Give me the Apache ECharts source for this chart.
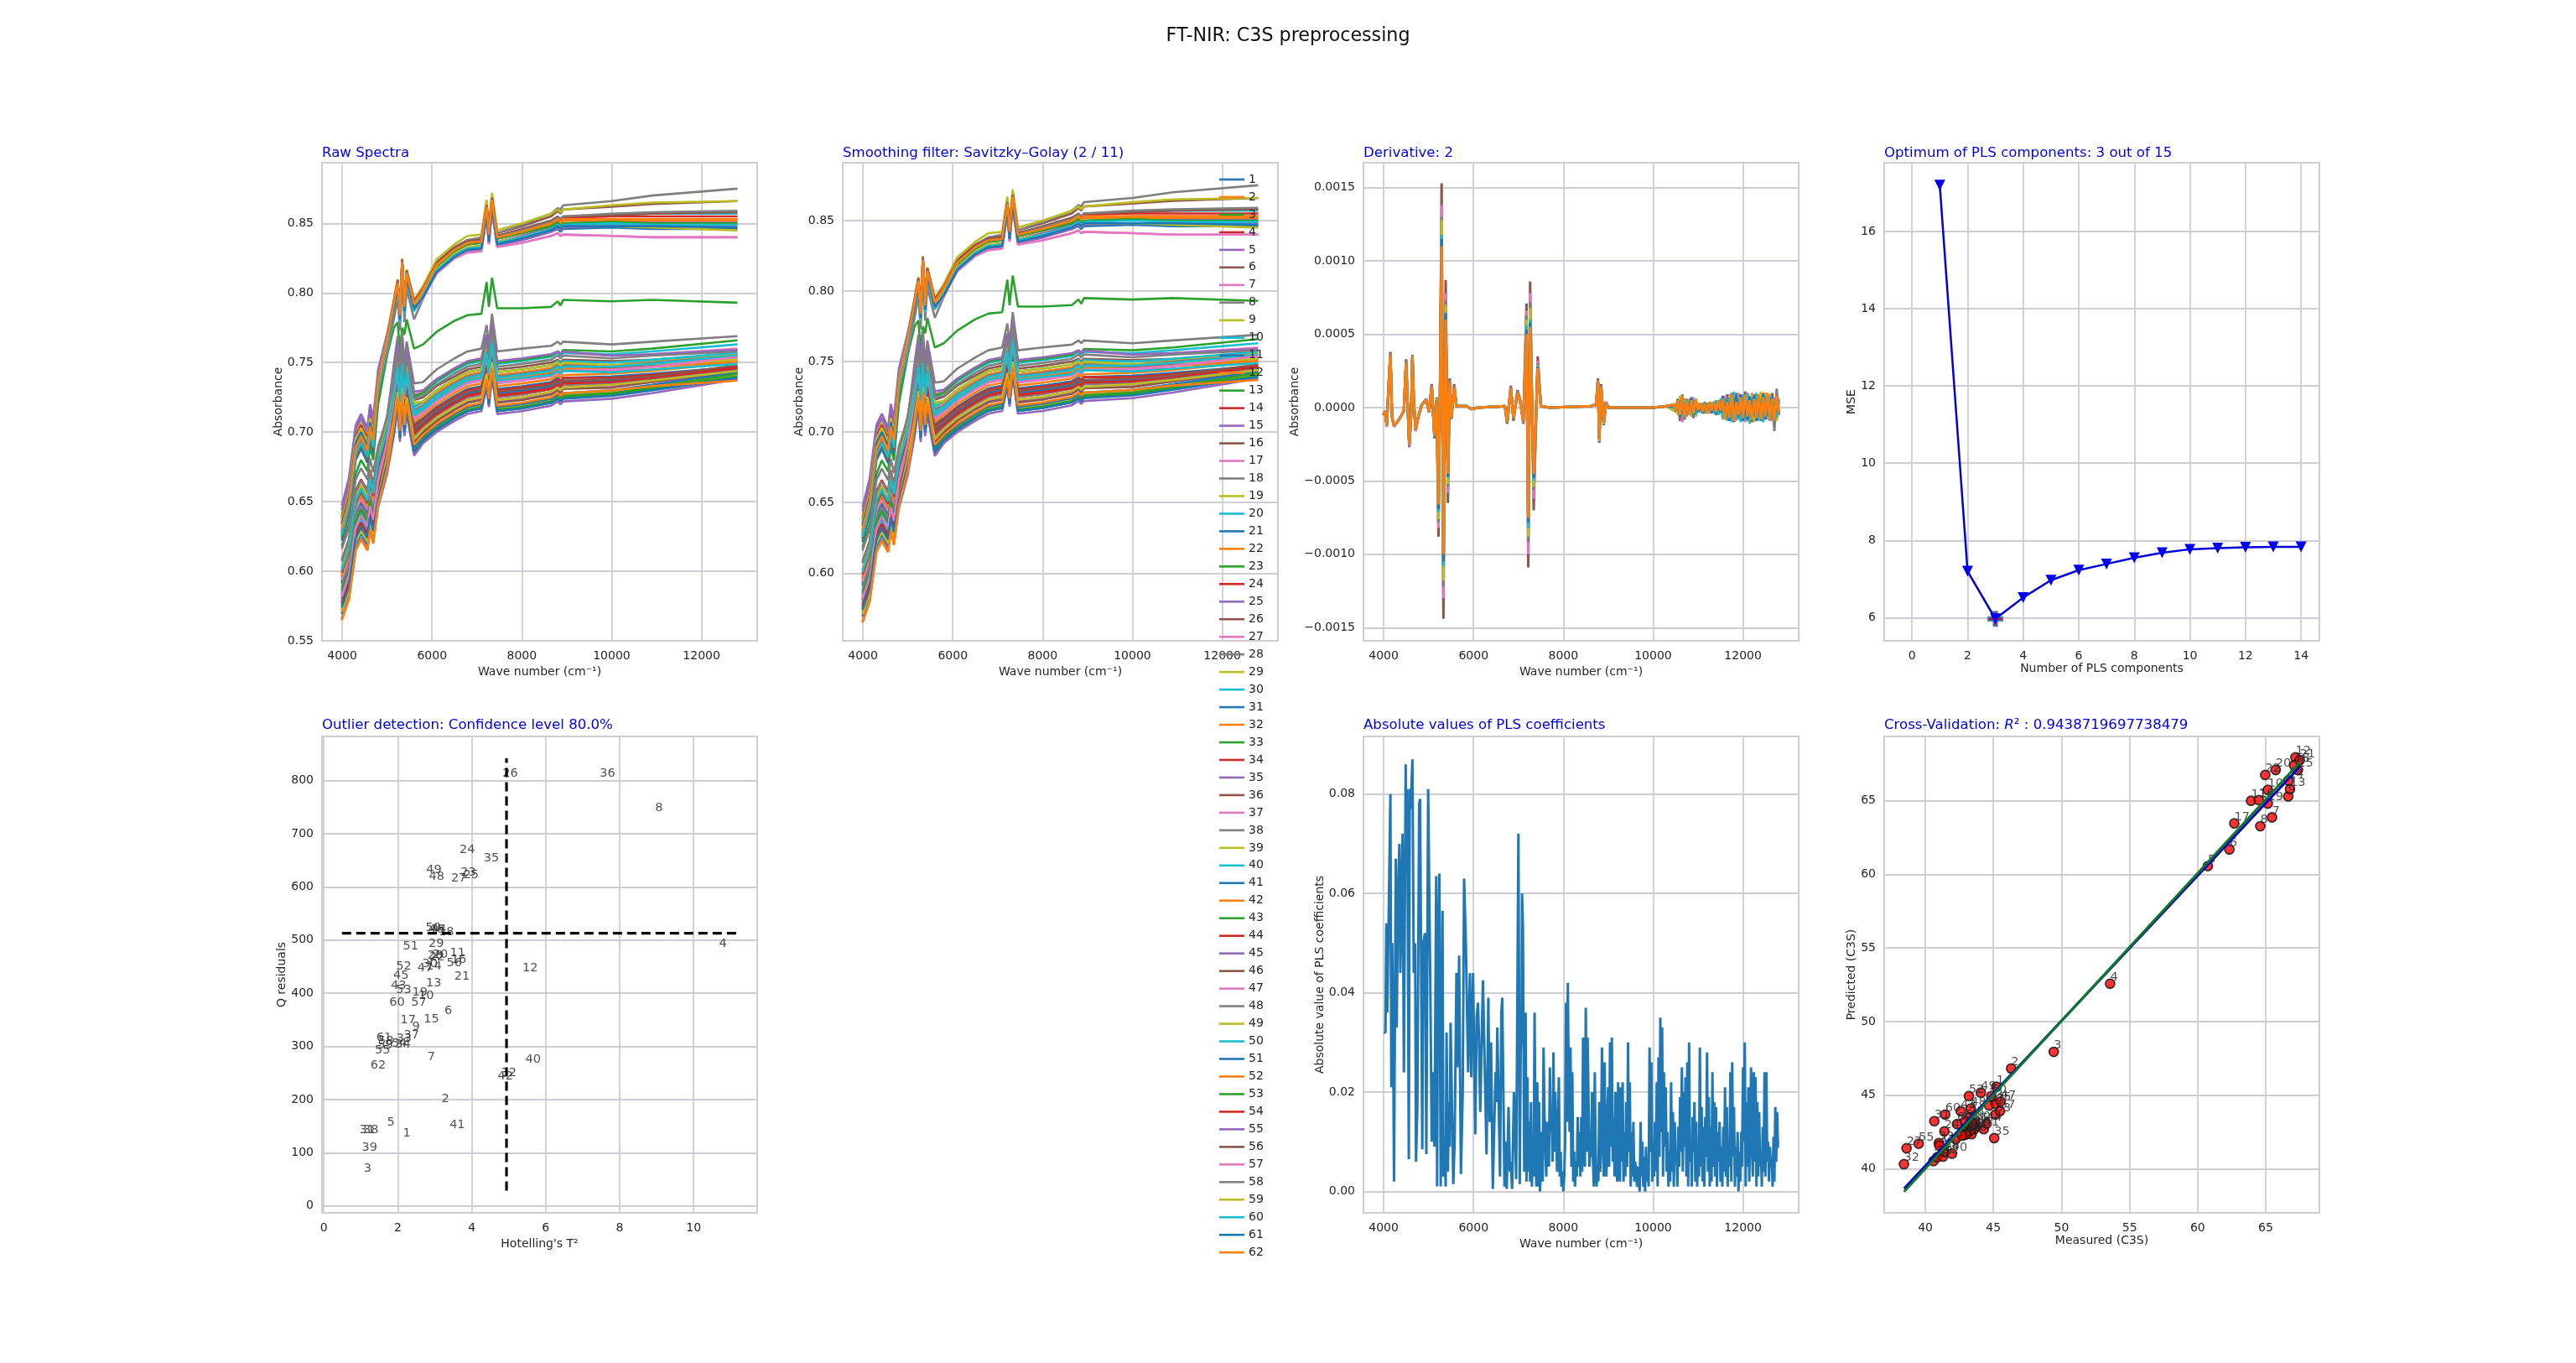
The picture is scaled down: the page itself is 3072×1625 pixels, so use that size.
<!DOCTYPE html>
<html><head><meta charset="utf-8"><style>html,body{margin:0;padding:0;background:#fff}#c{width:3072px;height:1625px}</style>
<script src="https://cdn.jsdelivr.net/npm/echarts@6/dist/echarts.min.js"></script></head><body><div id="c"></div>
<script>
const tab10=['#1f77b4','#ff7f0e','#2ca02c','#d62728','#9467bd','#8c564b','#e377c2','#7f7f7f','#bcbd22','#17becf'];
// Absorbance x 1000 for samples 1..62
const spectraWave=[3990,4150,4300,4420,4560,4620,4690,4800,5000,5150,5235,5285,5335,5385,5435,5600,5800,6100,6500,6790,7100,7215,7265,7335,7450,8000,8650,8800,8860,8920,10000,10900,12800];
const rawSpectra=[
[595,610,645,653,645,660,650,672,694,719,739,715,742,719,735,705,709,717,724,729,731,748,734,756,729,731,734,737,734,736,736,737,742],
[582,597,632,640,632,647,637,667,696,732,752,728,755,732,748,718,721,729,736,741,743,760,746,768,741,743,746,749,747,749,746,747,751],
[618,635,670,680,672,690,680,720,755,775,779,758,775,770,781,760,763,772,780,784,785,808,790,811,789,789,790,794,791,795,794,795,793],
[628,648,686,694,684,701,691,733,764,791,806,783,821,789,813,791,801,819,830,835,836,861,841,866,839,843,849,852,850,852,853,853,853],
[647,667,705,713,703,720,710,745,771,793,808,785,823,791,815,793,802,820,830,835,836,861,841,866,837,841,847,850,848,850,851,851,851],
[638,658,696,704,694,711,701,738,767,794,809,786,824,792,816,794,804,822,833,838,839,864,845,870,843,848,855,859,857,860,862,864,866],
[630,650,688,696,686,703,693,734,763,788,803,780,818,786,810,788,797,814,825,829,830,855,835,860,833,836,841,843,841,842,841,840,840],
[625,645,683,691,681,698,688,730,756,781,796,773,811,779,803,781,796,818,832,838,840,865,845,870,843,849,857,861,860,863,866,870,875],
[641,661,699,707,697,714,704,741,770,795,810,787,825,793,817,795,805,824,835,841,842,867,847,872,845,850,857,860,858,860,863,865,866],
[635,655,693,701,691,708,698,737,766,792,807,784,822,790,814,792,802,820,831,836,837,862,842,867,840,844,851,854,852,854,856,857,857],
[622,642,680,688,678,695,685,728,760,790,805,782,820,788,812,790,799,816,827,831,832,857,837,862,835,838,844,846,844,846,847,846,846],
[633,653,691,699,689,706,696,736,766,793,808,785,823,791,815,793,802,820,830,835,836,861,841,866,839,843,849,852,850,852,852,852,852],
[627,647,685,693,683,700,690,731,762,789,804,781,819,787,811,789,800,818,830,835,836,861,841,866,839,843,848,851,848,850,851,850,850],
[639,659,697,705,695,712,702,739,768,794,809,786,824,792,816,794,803,821,832,837,838,863,843,868,841,845,851,854,852,854,855,855,855],
[644,664,702,710,700,717,707,742,769,792,807,784,822,790,814,792,799,815,826,830,831,856,836,861,834,838,844,847,845,847,848,848,848],
[624,644,682,690,680,697,687,730,762,791,806,783,821,789,813,791,802,821,832,837,838,863,843,868,841,846,852,855,853,855,856,857,858],
[636,656,694,702,692,709,699,737,765,787,802,779,817,785,809,787,796,814,825,829,830,855,835,860,833,836,841,843,841,842,841,840,840],
[629,649,687,695,685,702,692,733,764,793,808,785,823,791,815,793,802,820,831,836,837,862,842,867,840,845,851,854,853,855,857,858,859],
[637,657,695,703,693,710,700,737,766,790,805,782,820,788,812,790,799,817,828,833,834,859,839,864,837,840,846,848,846,848,848,847,845],
[626,646,684,692,682,699,689,730,760,787,802,779,817,785,809,787,798,816,827,832,833,858,838,863,836,840,846,849,847,849,850,849,849],
[634,654,692,700,690,707,697,735,764,789,804,781,819,787,811,789,797,815,826,831,832,857,837,862,835,839,845,848,846,848,848,848,847],
[631,651,689,697,687,704,694,734,765,792,807,784,822,790,814,792,802,820,831,836,837,862,842,867,840,844,850,853,851,853,853,853,853],
[578,593,628,636,628,643,633,656,680,704,724,700,727,704,720,690,696,704,712,717,719,737,723,745,718,720,723,726,724,726,729,732,739],
[608,623,658,666,658,673,663,680,697,712,732,708,735,712,728,698,703,712,720,725,727,744,730,752,725,727,731,734,732,734,735,738,744],
[570,585,620,628,620,635,625,658,692,730,750,726,753,730,746,716,719,727,734,739,741,758,744,766,739,741,744,747,745,747,746,748,752],
[593,608,643,651,643,658,648,676,702,737,757,733,760,737,753,723,725,733,740,745,747,764,750,772,745,747,750,752,750,752,751,752,756],
[588,603,638,646,638,653,643,675,706,741,761,737,764,741,757,727,729,737,745,750,752,769,755,777,750,752,755,757,755,757,755,756,760],
[585,600,635,643,635,650,640,675,709,749,769,745,772,749,765,735,736,745,753,758,760,777,763,785,758,760,762,765,763,765,763,765,769],
[600,615,650,658,650,665,655,681,706,734,754,730,757,734,750,720,722,730,738,743,745,762,748,770,743,745,748,751,748,750,750,751,756],
[575,590,625,633,625,640,630,664,699,739,759,735,762,739,755,725,728,736,744,749,751,768,754,776,749,751,754,757,755,757,756,758,763],
[583,598,633,641,633,648,638,665,691,720,740,716,743,720,736,706,710,718,726,731,733,750,736,758,731,733,736,739,737,739,740,742,747],
[565,580,615,623,615,630,620,654,688,727,747,723,750,727,743,713,716,724,732,737,739,756,742,764,737,739,742,745,743,745,744,745,750],
[592,607,642,650,642,657,647,677,706,740,760,736,763,740,756,726,728,737,745,750,752,769,755,777,750,752,755,758,756,759,758,760,766],
[580,595,630,638,630,645,635,662,688,716,736,712,739,716,732,702,706,714,722,727,729,746,732,754,727,729,732,735,733,735,736,738,743],
[587,602,637,645,637,652,642,664,685,708,728,704,731,708,724,694,699,708,717,722,724,741,727,749,722,724,728,731,729,732,733,736,745],
[596,611,646,654,646,661,651,675,699,725,745,721,748,725,741,711,715,724,732,737,739,756,742,764,737,739,742,745,743,746,746,748,754],
[578,593,628,636,628,643,633,658,683,710,730,706,733,710,726,696,701,710,718,723,725,742,728,750,723,725,729,732,730,732,733,736,742],
[616,631,666,674,666,681,671,690,710,730,750,726,753,730,746,716,719,727,735,740,742,759,745,767,740,742,745,748,746,748,748,750,755],
[574,589,624,632,624,639,629,653,677,702,722,698,725,702,718,688,695,703,712,717,719,736,722,744,717,719,723,726,724,727,729,733,741],
[584,599,634,642,634,649,639,669,697,732,752,728,755,732,748,718,722,730,738,743,745,762,748,770,743,745,748,751,749,751,750,752,757],
[591,606,641,649,641,656,646,668,690,714,734,710,737,714,730,700,706,715,723,728,730,747,733,755,728,730,733,736,734,737,737,740,746],
[598,613,648,656,648,663,653,677,701,728,748,724,751,728,744,714,717,725,733,738,740,757,743,765,738,740,743,746,744,746,745,747,751],
[576,591,626,634,626,641,631,653,677,699,719,695,722,699,715,685,693,701,710,715,717,734,720,742,715,717,721,724,722,725,727,731,740],
[572,587,622,630,622,637,627,656,686,718,738,714,741,718,734,704,709,717,725,730,732,749,735,757,730,732,735,738,736,739,739,741,747],
[602,617,652,660,652,667,657,685,712,743,763,739,766,743,759,729,730,738,746,751,753,770,756,778,751,753,756,758,756,758,755,756,759],
[581,596,631,639,631,646,636,659,682,706,726,702,729,706,722,692,700,708,716,721,723,740,726,748,721,723,727,730,728,731,732,736,744],
[594,609,644,652,644,659,649,673,697,723,743,719,746,723,739,709,714,722,730,735,737,754,740,762,735,737,740,743,741,744,744,747,753],
[589,604,639,647,639,654,644,666,689,711,731,707,734,711,727,697,704,712,720,725,727,744,730,752,725,727,731,734,732,734,735,738,745],
[604,619,654,662,654,669,659,684,709,735,755,731,758,735,751,721,722,730,738,743,745,762,748,770,743,745,748,750,748,750,748,749,752],
[579,594,629,637,629,644,634,664,694,728,748,724,751,728,744,714,718,726,734,739,741,758,744,766,739,741,744,747,745,747,747,749,755],
[569,584,619,627,619,634,624,650,678,703,723,699,726,703,719,689,697,705,713,718,720,737,723,745,718,720,724,727,725,728,730,734,743],
[597,612,647,655,647,662,652,675,697,721,741,717,744,721,737,707,712,720,728,733,735,752,738,760,733,735,738,741,739,741,742,744,750],
[586,601,636,644,636,651,641,661,681,701,721,697,724,701,717,687,695,703,711,716,718,735,721,743,716,718,722,725,723,726,728,732,742],
[577,592,627,635,627,642,632,658,684,713,733,709,736,713,729,699,705,713,721,726,728,745,731,753,726,728,731,734,733,735,736,739,746],
[566,581,616,624,616,631,621,646,670,697,717,693,720,697,713,683,692,700,708,713,715,732,718,740,713,715,719,722,720,722,724,728,738],
[599,614,649,657,649,664,654,675,696,717,737,713,740,717,733,703,708,716,724,729,731,748,734,756,729,731,734,737,735,737,738,740,748],
[582,597,632,640,632,647,637,665,693,724,744,720,747,724,740,710,715,723,731,736,738,755,741,763,736,738,741,744,742,744,745,747,754],
[607,622,657,665,657,672,662,687,711,738,758,734,761,738,754,724,726,734,742,747,749,766,752,774,747,749,752,755,753,755,753,755,758],
[571,586,621,629,621,636,626,653,682,709,729,705,732,709,725,695,702,710,718,723,725,742,728,750,723,725,729,732,730,732,734,737,744],
[601,616,651,659,651,666,656,679,701,726,746,722,749,726,742,712,716,724,732,737,739,756,742,764,737,739,741,744,742,744,743,745,749],
[574,589,624,632,624,639,629,652,677,700,720,696,723,700,716,686,694,702,710,715,717,734,720,742,715,717,721,724,722,724,726,730,739],
[565,580,615,623,615,630,620,648,673,705,725,701,728,705,721,691,698,706,714,719,721,738,724,746,719,721,725,728,726,728,730,733,737]];
// Second derivative x 100000, the seven samples that stay visible on top (56..62)
const derivWave=[3990,4030,4070,4110,4150,4185,4230,4300,4400,4450,4500,4530,4570,4610,4640,4670,4710,4780,4850,4950,5010,5070,5130,5180,5220,5255,5290,5330,5380,5430,5470,5505,5570,5620,5700,5850,5950,6100,6700,6750,6830,6890,6980,7040,7110,7180,7220,7260,7340,7430,7500,7700,8600,8730,8770,8800,8840,8900,8950,9000,9500,10000,10300,
10450,10500,10550,10600,10650,10700,10750,10800,10850,10900,10950,11000,11050,11100,11150,11200,11250,11300,11350,11400,11450,11500,11550,11600,11650,11700,11750,11800,11850,11900,11950,12000,12050,12100,12150,12200,12250,12300,12350,12400,12450,12500,12550,12600,12650,12700,12750,12800];
const deriv56=[-5,-2,-13,16,38,-7,-13,-10,-5,-2,33,5,-27,-5,36,5,-16,-5,2,6,-3,16,-21,7,-88,12,153,-144,87,-65,20,-8,16,1,1,1,-1,0,1,-11,15,-9,12,5,-11,71,-109,86,-70,35,1,0,1,2,20,-24,16,-12,4,0,0,0,1,
2,-3,6,-9,8,-5,5,-4,6,-7,4,-2,3,-3,2,-4,3,-2,4,-5,4,-3,3,-8,9,-5,7,-10,10,-7,6,-9,11,-5,8,-10,9,-6,4,-9,10,-7,9,-8,10,-11,8,-5];
const deriv57=[-5,-2,-13,15,37,-6,-13,-10,-5,-2,32,5,-26,-5,35,5,-16,-5,2,6,-3,15,-20,6,-82,11,138,-130,78,-58,19,-8,15,1,1,1,-1,0,1,-10,14,-8,11,5,-10,66,-100,78,-62,32,1,0,1,2,19,-23,15,-11,4,0,0,0,1,
-1,2,-4,7,-10,6,-5,4,-6,7,-3,3,-3,3,-2,3,-4,3,-3,4,-4,4,-5,8,-6,9,-8,7,-9,10,-6,8,-10,9,-7,10,-8,7,-9,8,-7,10,-8,9,-9,7,-6,6];
const deriv58=[-5,-3,-12,15,37,-6,-12,-10,-5,-2,32,5,-25,-5,35,5,-15,-5,2,5,-3,15,-20,6,-78,11,130,-122,73,-54,19,-8,15,1,1,1,-1,0,1,-10,14,-8,11,4,-10,63,-92,72,-56,30,1,0,1,2,19,-22,15,-11,3,0,0,0,1,
1,-2,3,-7,9,-4,6,-5,4,-6,5,-2,3,-3,4,-3,2,-4,3,-3,3,-4,7,-6,6,-9,8,-5,7,-8,9,-6,7,-9,6,-7,8,-6,8,-7,6,-8,7,-9,6,-16,13,-4];
const deriv59=[-5,-3,-12,15,36,-6,-12,-10,-5,-2,31,5,-25,-5,35,5,-15,-5,2,5,-3,14,-19,6,-76,11,128,-118,70,-52,18,-7,14,1,1,1,-1,0,1,-10,13,-7,10,4,-9,60,-88,68,-54,29,1,0,1,2,18,-22,14,-11,3,0,0,0,1,
-2,3,-5,8,-6,5,-4,6,-5,4,-6,3,-2,3,-3,2,-3,4,-3,3,-4,3,-8,5,-7,8,-6,9,-5,7,-9,8,-6,10,-7,9,-10,8,-6,11,-8,10,-7,9,-8,5,-9,4];
const deriv60=[-5,-3,-12,14,36,-6,-12,-10,-5,-2,31,5,-25,-5,34,5,-15,-5,2,5,-3,14,-18,5,-71,10,118,-108,65,-48,18,-7,14,1,1,1,-1,0,1,-10,13,-7,10,4,-9,56,-82,60,-50,28,1,0,1,2,18,-21,14,-10,3,0,0,0,1,
0,1,-2,5,-6,4,-6,5,-3,5,-5,2,-3,3,-4,3,-2,3,-4,5,-5,6,-7,6,-9,7,-10,11,-8,6,-10,9,-8,10,-11,7,-6,10,-9,6,-10,8,-6,8,-8,4,-7,6];
const deriv61=[-5,-3,-12,14,36,-6,-12,-10,-5,-2,31,5,-25,-5,34,5,-15,-5,2,5,-3,14,-18,5,-69,10,115,-105,64,-47,18,-7,14,1,1,1,-1,0,1,-10,13,-7,10,4,-9,53,-78,58,-48,28,1,0,1,2,18,-21,14,-10,3,0,0,0,1,
1,-1,4,-6,7,-8,3,-4,7,-5,3,-3,2,-4,3,-2,3,-3,2,-4,3,-3,8,-7,5,-9,10,-6,8,-6,9,-9,5,-8,7,-5,8,-9,6,-7,9,-8,6,-7,7,-9,5,-3];
const deriv62=[-5,-3,-12,14,36,-6,-12,-10,-5,-2,31,5,-25,-5,34,5,-15,-5,2,5,-3,14,-18,5,-66,10,110,-100,60,-45,18,-7,14,1,1,1,-1,0,1,-10,13,-7,10,4,-9,50,-75,55,-45,27,1,0,1,2,18,-21,14,-10,3,0,0,0,1,
2,-2,5,-5,8,-7,4,-5,5,-4,6,-2,3,-3,3,-4,4,-2,3,-3,5,-2,6,-8,4,-7,9,-9,4,-5,7,-7,9,-6,5,-8,6,-7,9,-8,7,-6,10,-8,6,-9,8,-3];
const derivSeries=[deriv56,deriv57,deriv58,deriv59,deriv60,deriv61,deriv62];
const derivColors=[tab10[5],tab10[6],tab10[7],tab10[8],tab10[9],tab10[0],tab10[1]];
// PLS component search
const plsComponents=[1,2,3,4,5,6,7,8,9,10,11,12,13,14];
const plsMse=[17.2,7.2,5.97,6.52,6.97,7.23,7.39,7.55,7.68,7.77,7.80,7.82,7.83,7.83];
const plsBest=[3,5.97];
// Outlier map: Hotelling T2 and Q residuals for samples 1..62
const hotellingT2=[2.14,3.18,1.08,10.69,1.71,3.26,2.80,8.96,2.39,2.56,3.41,5.37,2.76,2.77,2.70,3.44,2.07,3.10,2.39,2.94,3.53,2.85,3.70,3.67,3.77,4.83,3.44,2.80,2.83,2.66,0.96,4.79,1.96,1.93,4.32,7.46,2.16,1.06,1.03,5.45,3.40,4.70,1.81,2.90,1.88,2.83,2.53,2.84,2.77,2.75,2.14,1.95,1.95,1.83,1.38,3.32,2.36,1.47,1.45,1.77,1.42,1.26];
const qResiduals=[131,195,64,488,152,361,275,743,332,390,470,442,414,445,345,457,344,510,396,467,426,462,621,664,617,807,611,465,487,450,138,245,309,298,648,807,316,138,104,270,146,238,408,514,428,515,441,614,627,517,483,445,400,299,287,451,377,305,296,377,311,259];
const t2Limit=4.94;
const qLimit=513;
const limitQRange=[29,842];
const limitT2Range=[0.49,11.18];
// PLS coefficients: abs value x 1000
const coefHeadWave=[4000,4040,4060,4080,4100,4150,4170,4190,4210,4230,4270,4290,4320,4350,4370,4420,4450,4490,4510,4520,4530,4560,4580,4600,4640,4670,4700,4720,4750,4790,4810,4860,4880,4920,4950,4990,5040,5070,5100,5130,5170,5190,5210,5240,5270,5310,5330,5360,5380,5400,5430,5450,5470,5490,5510,5550,5580,5620,5640,5680,5700,5720,5760,5790,5830,5880,5920,5950,5990,6040,6070,6100,6120,6150,6210,6260,6290,6330,6360,6390,6430,6490,6510,6530,6590,6620,6640,6690,6710,6740,6780,6810,6830,6860,6900,6950,6980,7000,7030,7050,7070,7080,7100,7130,7160,7180];
const coefHeadValue=[32,32,54,36,36,80,21,50,34,2,67,33,60,70,44,72,24,86,67,81,70,6.5,81,77,87,44,50,6,17,78,79,8.5,50,52,7.5,81,40,10,24,9,63.5,1,47,64,1,56.5,3,11,1,32,4,18,9,34,34,1.5,10,44,25,47.5,24,3.5,20,63,50,24,44,23,44,11.5,35,38,31.5,16,42.5,21,7.5,39,14,30,0.5,24,18,33,3,36,39,1,10,0.5,17,4,6,0.5,20,2.5,44,72,1.5,28,33,60,53.5,4,36,2];
const coefTailStart=7200, coefTailStep=20;
const coefTailValue=[23,4,14,2,18,1,10,3,36,8,1,22,1,18,0,5,12,2,29,16,
8,3,14,9,5,25,12,16,6,28,8,20,14,4,11,23,3,8,1,4,
0,3,10,38,14,42,22,12,29,5,24,2,8,1,6,3,15,5,12,3,
15,4,31,12,5,37,8,31,19,5,9,7,20,6,1,24,8,1,5,2,
18,4,9,29,12,3,26,7,3,15,21,5,30,9,31,6,15,3,20,7,
2,22,10,2,21,6,22,2,12,3,18,5,30,8,22,1,12,3,14,2,
6,4,1,5,2,0,14,3,10,1,7,0,9,2,6,1,29,8,26,2,
9,3,14,4,22,1,27,7,35,12,33,3,24,9,21,4,12,1,8,2,
22,4,16,1,14,6,8,1,13,5,19,8,25,4,20,9,23,3,26,1,
30,6,10,1,15,8,18,2,14,1,8,3,29,5,17,2,13,1,15,7,
28,4,19,1,13,2,24,5,18,3,17,1,12,6,14,2,9,1,13,4,
21,3,17,1,10,5,24,2,26,7,17,1,9,3,12,0,8,2,12,5,
25,10,30,1,18,5,21,2,12,25,9,3,24,6,23,1,18,3,16,5,
8,1,13,4,24,3,24,6,10,2,9,5,7,1,11,2,17,6,16,9,9];
// Cross-validation for samples 1..62
const measured=[45.22,46.30,49.43,53.57,60.75,62.33,65.46,64.60,66.65,65.15,63.92,67.18,66.78,66.67,67.36,64.49,62.69,67.09,65.15,65.73,67.49,64.96,43.0,41.40,43.1,43.4,38.62,43.2,42.9,43.67,40.66,38.43,40.99,41.03,45.06,42.23,44.68,40.60,40.87,41.96,44.29,41.30,42.60,44.50,45.17,43.6,45.53,43.34,44.08,44.85,43.3,43.20,45.15,42.99,39.51,43.5,45.48,41.38,42.7,41.46,42.89,42.33];
const predicted=[45.57,46.81,47.94,52.57,60.56,61.69,63.87,63.27,65.29,65.74,65.0,67.95,65.79,66.37,67.09,65.05,63.46,67.42,64.81,67.09,67.76,66.75,42.5,42.54,42.4,42.35,41.39,43.45,42.3,43.11,43.23,40.31,41.74,41.58,42.08,42.0,44.29,40.52,40.78,41.02,42.69,40.82,43.91,43.07,44.41,42.7,44.56,44.08,45.17,44.94,42.6,44.94,43.68,42.35,41.70,43.0,43.91,41.16,42.25,43.68,43.22,43.03];
const fitBlue=[[38.44,38.65],[67.5,67.3]];
const fitGreen=[[38.44,38.44],[67.5,67.6]];

const ids=rawSpectra.map((_,i)=>String(i+1));
const FONT='DejaVu Sans', INK='#262626', GRID='#cdcdd3';
const W=519,H1=570,H2=568,T1=194,T2=878,L=[384,1005,1626,2247];
const grids=[[L[0],T1,H1],[L[1],T1,H1],[L[2],T1,H1],[L[3],T1,H1],[L[0],T2,H2],[L[2],T2,H2],[L[3],T2,H2]]
 .map(g=>({left:g[0],top:g[1],width:W,height:g[2],show:true,borderColor:GRID,borderWidth:2,backgroundColor:'#fff'}));
function axis(gi,kind,min,max,ticks,fmt,name,gap){
 const a={type:'value',gridIndex:gi,min,max,name,nameLocation:'middle',nameGap:gap,
  nameTextStyle:{fontFamily:FONT,fontSize:14,color:INK},
  axisLine:{show:false},axisTick:{show:false,customValues:ticks},
  axisLabel:{customValues:ticks,formatter:fmt,fontFamily:FONT,fontSize:14,color:INK,margin:kind==='x'?11:10,showMinLabel:true,showMaxLabel:true},
  splitLine:{show:true,lineStyle:{color:GRID,width:1.8}}};
 if(kind==='y')a.nameRotate=90;
 return a;
}
const num=v=>String(v);
const signed=d=>v=>(v<0?'\u2212':'')+Math.abs(v).toFixed(d);
const waveTicks=[4000,6000,8000,10000,12000];
const XN='Wave number (cm\u207B\u00B9)';
const xAxes=[
 axis(0,'x',3550,13240,waveTicks,num,XN,30),
 axis(1,'x',3550,13240,waveTicks,num,XN,30),
 axis(2,'x',3550,13240,waveTicks,num,XN,30),
 axis(3,'x',-1,14.66,[0,2,4,6,8,10,12,14],num,'Number of PLS components',25),
 axis(4,'x',-0.05,11.72,[0,2,4,6,8,10],num,"Hotelling's T\u00B2",30),
 axis(5,'x',3550,13240,waveTicks,num,XN,30),
 axis(6,'x',36.98,68.94,[40,45,50,55,60,65],num,'Measured (C3S)',25)];
const yAxes=[
 axis(0,'y',0.55,0.8936,[0.55,0.6,0.65,0.7,0.75,0.8,0.85],signed(2),'Absorbance',39),
 axis(1,'y',0.552,0.891,[0.6,0.65,0.7,0.75,0.8,0.85],signed(2),'Absorbance',39),
 axis(2,'y',-0.00159,0.00167,[-0.0015,-0.001,-0.0005,0,0.0005,0.001,0.0015],signed(4),'Absorbance',67),
 axis(3,'y',5.40,17.78,[6,8,10,12,14,16],num,'MSE',23),
 axis(4,'y',-13,883,[0,100,200,300,400,500,600,700,800],num,'Q residuals',32),
 axis(5,'y',-0.0043,0.0916,[0,0.02,0.04,0.06,0.08],signed(2),'Absolute value of PLS coefficients',37),
 axis(6,'y',37,69.37,[40,45,50,55,60,65],num,'Predicted (C3S)',23)];
const series=[];
const line=(gi,name,data,color,width)=>({type:'line',name,xAxisIndex:gi,yAxisIndex:gi,data,symbol:'none',silent:true,
  lineStyle:{color,width},itemStyle:{color},animation:false,clip:true});
[0,1].forEach(gi=>rawSpectra.forEach((row,i)=>series.push(line(gi,ids[i],row.map((v,j)=>[spectraWave[j],v/1000]),tab10[i%10],2.6))));
derivSeries.forEach((row,i)=>series.push(line(2,'deriv'+(56+i),row.map((v,j)=>[derivWave[j],v/100000]),derivColors[i],3)));
series.push(Object.assign(line(3,'MSE',plsComponents.map((c,i)=>[c,plsMse[i]]),'#0000d8',2.5),
 {symbol:'triangle',symbolRotate:180,symbolSize:13,itemStyle:{color:'#0000ee'}}));
series.push({type:'scatter',name:'best',xAxisIndex:3,yAxisIndex:3,data:[plsBest],symbol:'path://M3 0h2v3h3v2H5v3H3V5H0V3h3z',symbolSize:17,
 itemStyle:{color:'#e00000',borderColor:'#4682b4',borderWidth:2,opacity:1},silent:true});
const labelBase={show:true,position:['50%','50%'],align:'left',verticalAlign:'bottom',fontFamily:FONT,fontSize:14.5,color:INK,
 formatter:p=>p.value[2],distance:0};
series.push({type:'scatter',name:'outliers',xAxisIndex:4,yAxisIndex:4,symbolSize:1,itemStyle:{color:'rgba(0,0,0,0)'},silent:true,
 data:hotellingT2.map((v,i)=>[v,qResiduals[i],ids[i]]),label:Object.assign({},labelBase,{offset:[0,4]})});
const dash=(d)=>Object.assign(line(4,'limit',d,'#000',3),{lineStyle:{color:'#000',width:3.2,type:[11,6]}});
series.push(dash([[t2Limit,limitQRange[0]],[t2Limit,limitQRange[1]]]));
series.push(dash([[limitT2Range[0],qLimit],[limitT2Range[1],qLimit]]));
const coefData=coefHeadWave.map((x,i)=>[x,coefHeadValue[i]/1000]).concat(coefTailValue.map((v,i)=>[coefTailStart+i*coefTailStep,v/1000]));
series.push(line(5,'coef',coefData,'#1f77b4',3));
series.push({type:'scatter',name:'cv',xAxisIndex:6,yAxisIndex:6,symbolSize:11,silent:true,
 itemStyle:{color:'#ff0000',borderColor:'#111',borderWidth:1.8},
 data:measured.map((v,i)=>[v,predicted[i],ids[i]]),label:labelBase});
series.push(line(6,'fit',fitBlue,'#0000c8',3));
series.push(line(6,'ideal',fitGreen,'#0a7a2a',3));

const titleAt=(text,left,top,rich)=>({text,left:left-5,top,textStyle:Object.assign({fontFamily:FONT,fontSize:16.6,fontWeight:'normal',color:'#0000e6'},rich?{rich}:{})});
const option={animation:false,backgroundColor:'#fff',
 title:[
  {text:'FT-NIR: C3S preprocessing',left:'center',top:27,textStyle:{fontFamily:FONT,fontSize:22.2,fontWeight:'normal',color:'#111'}},
  titleAt('Raw Spectra',L[0],169),
  titleAt('Smoothing filter: Savitzky\u2013Golay (2 / 11)',L[1],169),
  titleAt('Derivative: 2',L[2],169),
  titleAt('Optimum of PLS components: 3 out of 15',L[3],169),
  titleAt('Outlier detection: Confidence level 80.0%',L[0],851),
  titleAt('Absolute values of PLS coefficients',L[2],851),
  titleAt('Cross-Validation: {i|R}\u00B2 : 0.9438719697738479',L[3],851,{i:{fontFamily:FONT,fontSize:16.6,fontStyle:'italic',color:'#0000e6'}})],
 grid:grids,xAxis:xAxes,yAxis:yAxes,series,
 legend:{show:true,data:ids,orient:'vertical',left:1454,top:207,itemWidth:30,itemHeight:2.6,itemGap:6.97,icon:'rect',selectedMode:false,
  textStyle:{fontFamily:FONT,fontSize:14,color:INK},padding:0}};
echarts.init(document.getElementById('c'),null,{renderer:'canvas',width:3072,height:1625}).setOption(option);
</script></body></html>
